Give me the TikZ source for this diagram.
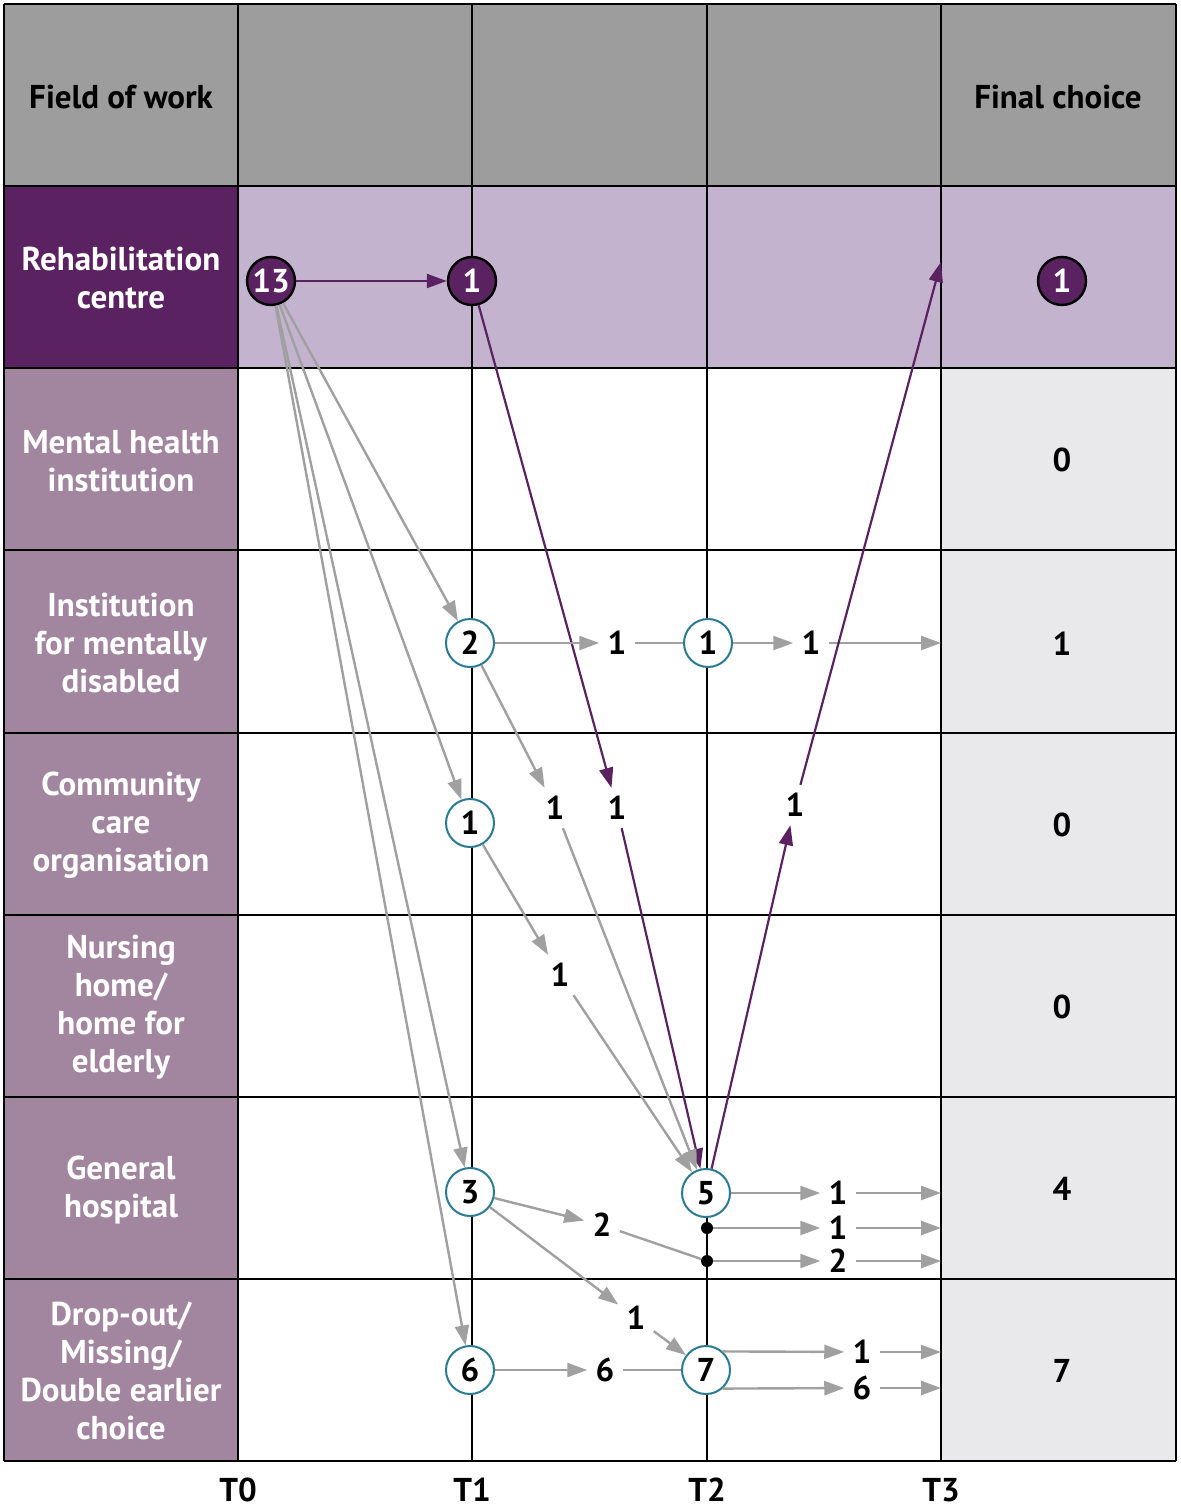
\documentclass[tikz,border=0pt]{standalone}
\usepackage{fontspec}
\setmainfont{PT Sans}
\usetikzlibrary{arrows.meta}
\definecolor{hdrgray}{HTML}{9D9D9E}
\definecolor{darkpurple}{HTML}{5B2262}
\definecolor{lightpurple}{HTML}{C4B3CE}
\definecolor{midpurple}{HTML}{A2869F}
\definecolor{finalgray}{HTML}{E9E9EB}
\definecolor{tealring}{HTML}{2A7A93}
\definecolor{arrowgray}{HTML}{A0A0A0}
\tikzset{
  fieldtxt/.style={text=white, font=\bfseries\fontsize{16.5}{19}\selectfont, align=center},
  headtxt/.style={font=\bfseries\fontsize{16.5}{19}\selectfont},
  numtxt/.style={font=\bfseries\fontsize{16.5}{19}\selectfont, inner sep=4pt},
  tcirc/.style={circle, draw=tealring, line width=1pt, fill=white, minimum size=24pt, inner sep=0pt, font=\bfseries\fontsize{16.5}{19}\selectfont},
  pcirc/.style={circle, draw=black, line width=1.2pt, fill=darkpurple, text=white, minimum size=24pt, inner sep=0pt, font=\bfseries\fontsize{16.5}{19}\selectfont},
  jdot/.style={circle, fill=black, minimum size=6pt, inner sep=0pt},
  gline/.style={draw=arrowgray, line width=1.2pt},
  garrow/.style={gline, -{Triangle[length=10pt,width=7pt]}},
  parrow/.style={draw=darkpurple, line width=1.1pt, -{Triangle[length=10pt,width=7pt]}},
}
\begin{document}
\begin{tikzpicture}[x=0.5pt,y=-0.5pt]
  \useasboundingbox (0,0) rectangle (1181,1508);

  % cell fills
  \fill[hdrgray] (4,4) rectangle (1176,186);
  \fill[darkpurple] (4,186) rectangle (238,368);
  \fill[lightpurple] (238,186) rectangle (1176,368);
  \fill[midpurple] (4,368) rectangle (238,1461);
  \fill[finalgray] (941,368) rectangle (1176,1461);

  % grid
  \foreach \y in {4,186,368,550,733,915,1097,1279,1461}
    \draw[line width=1.3pt] (4,\y) -- (1176,\y);
  \foreach \x in {4,238,472,707,941,1176}
    \draw[line width=1.3pt] (\x,4) -- (\x,1461);

  % header and field labels
  \node[headtxt] (hfield) at (121,97) {Field of work};
  \node[headtxt] (hfinal) at (1058,97) {Final choice};
  \node[fieldtxt] (frehab) at (121,278) {Rehabilitation\\centre};
  \node[fieldtxt] (fmental) at (121,461) {Mental health\\institution};
  \node[fieldtxt] (fdisabled) at (121,643) {Institution\\for mentally\\disabled};
  \node[fieldtxt] (fcommunity) at (121,825) {Community\\care\\organisation};
  \node[fieldtxt] (fnursing) at (121,1007) {Nursing\\home/\\home for\\elderly};
  \node[fieldtxt] (fhospital) at (121,1190) {General\\hospital};
  \node[fieldtxt] (fdrop) at (121,1371) {Drop-out/\\Missing/\\Double earlier\\choice};

  % time points
  \foreach \x/\t in {238/T0,472/T1,707/T2,941/T3}
    \node[headtxt, inner sep=1pt] (time\t) at (\x,1490) {\t};

  % final choice
  \node[pcirc] (fin1) at (1062,281) {1};
  \node[numtxt] (fin2) at (1062,460) {0};
  \node[numtxt] (fin3) at (1062,644) {1};
  \node[numtxt] (fin4) at (1062,825) {0};
  \node[numtxt] (fin5) at (1062,1007) {0};
  \node[numtxt] (fin6) at (1062,1189) {4};
  \node[numtxt] (fin7) at (1062,1371) {7};

  % states
  \node[pcirc] (r13) at (271,281) {13};
  \node[pcirc] (r1) at (472,281) {1};
  \node[tcirc] (d2) at (470,643) {2};
  \node[tcirc] (d1) at (708,643) {1};
  \node[tcirc] (c1) at (470,823) {1};
  \node[tcirc] (h3) at (470,1192) {3};
  \node[tcirc] (h5) at (706,1193) {5};
  \node[tcirc] (x6) at (470,1370) {6};
  \node[tcirc] (x7) at (706,1370) {7};
  \node[jdot] (j1) at (707,1228) {};
  \node[jdot] (j2) at (707,1261) {};

  % counts on the way
  \node[numtxt] (ld2d1) at (617,643) {1};
  \node[numtxt] (ld1out) at (811,643) {1};
  \node[numtxt] (ld2h5) at (555,808) {1};
  \node[numtxt] (lr1h5) at (617,808) {1};
  \node[numtxt] (lh5r) at (795,805) {1};
  \node[numtxt] (lc1h5) at (560,975) {1};
  \node[numtxt] (lh3j2) at (602,1225) {2};
  \node[numtxt] (lh3x7) at (636,1318) {1};
  \node[numtxt] (lx6x7) at (605,1370) {6};
  \node[numtxt] (lh5a) at (838,1193) {1};
  \node[numtxt] (lh5b) at (838,1228) {1};
  \node[numtxt] (lh5c) at (838,1261) {2};
  \node[numtxt] (lx7a) at (862,1352) {1};
  \node[numtxt] (lx7b) at (862,1388) {6};

  % ends at T3
  \coordinate (e1) at (941,262);
  \coordinate (e3) at (941,643);
  \coordinate (e6a) at (941,1193);
  \coordinate (e6b) at (941,1228);
  \coordinate (e6c) at (941,1261);
  \coordinate (e7a) at (941,1352);
  \coordinate (e7b) at (941,1388);

  % transitions from T0
  \draw[garrow] (r13) -- (d2);
  \draw[garrow] (r13) -- (c1);
  \draw[garrow] (r13) -- (h3);
  \draw[garrow] (r13) -- (x6);
  \draw[parrow] (r13) -- (r1);

  % transitions from T1
  \draw[parrow] (r1) -- (lr1h5);
  \draw[parrow] (lr1h5) -- (h5);
  \draw[garrow] (d2) -- (ld2d1);
  \draw[gline] (ld2d1) -- (d1);
  \draw[garrow] (d2) -- (ld2h5);
  \draw[garrow] (ld2h5) -- (h5);
  \draw[garrow] (c1) -- (lc1h5);
  \draw[garrow] (lc1h5) -- (h5);
  \draw[garrow] (h3) -- (lh3j2);
  \draw[gline] (lh3j2) -- (j2);
  \draw[garrow] (h3) -- (lh3x7);
  \draw[garrow] (lh3x7) -- (x7);
  \draw[garrow] (x6) -- (lx6x7);
  \draw[gline] (lx6x7) -- (x7);

  % transitions from T2
  \draw[garrow] (d1) -- (ld1out);
  \draw[garrow] (ld1out) -- (e3);
  \draw[parrow] (h5) -- (lh5r);
  \draw[parrow] (lh5r) -- (e1);
  \draw[garrow] (h5) -- (lh5a);
  \draw[garrow] (lh5a) -- (e6a);
  \draw[garrow] (j1) -- (lh5b);
  \draw[garrow] (lh5b) -- (e6b);
  \draw[garrow] (j2) -- (lh5c);
  \draw[garrow] (lh5c) -- (e6c);
  \draw[garrow] (x7.48) -- (lx7a);
  \draw[garrow] (lx7a) -- (e7a);
  \draw[garrow] (x7.-48) -- (lx7b);
  \draw[garrow] (lx7b) -- (e7b);
\end{tikzpicture}
\end{document}
